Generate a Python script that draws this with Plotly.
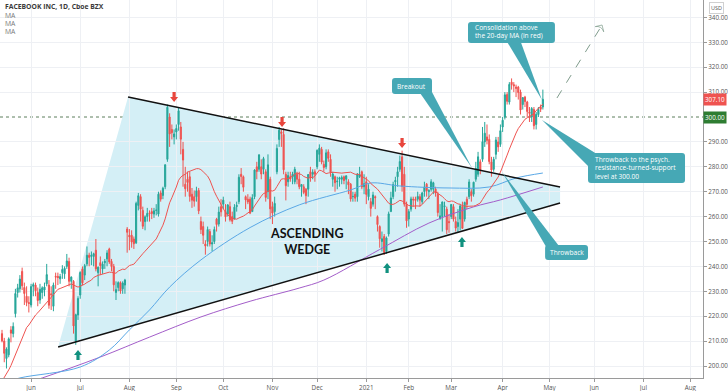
import numpy as np
import pandas as pd
import plotly.graph_objects as go

# ---------------- DATA ----------------
holidays = ["2020-05-25", "2020-07-03", "2020-09-07", "2020-11-26", "2020-12-25",
            "2021-01-01", "2021-01-18", "2021-02-15", "2021-04-02", "2021-05-31", "2021-07-05"]

# closes of the 19 sessions before the first visible bar (for the 20-day MA)
pre_closes = [176.97, 176.25, 179.24, 178.24, 170.80, 182.28, 185.13, 190.07, 187.50, 182.91,
              194.19, 204.71, 202.27, 205.26, 207.07, 208.47, 211.26, 212.35, 213.18]

opens = [
    213.0, 210.0, 203.0, 204.5, 214.5, 213.0, 221.0, 229.5, 231.0, 238.0, 231.5, 228.0, 225.5,
    224.5, 232.0, 232.5, 229.5, 226.5, 229.5, 230.5, 233.0, 232.5, 229.0, 224.0, 236.0, 236.0, 235.0, 237.5, 237.0, 240.0, 242.0, 234.0, 234.0, 210.0, 220.5,
    228.5, 239.0, 236.5, 241.0, 244.5, 244.0, 244.0, 246.5, 237.5, 241.5, 239.0, 241.5, 243.0, 247.0, 242.0, 240.0, 229.5, 231.5, 233.5, 231.0, 232.5, 255.0,
    252.5, 252.5, 251.0, 249.5, 264.5, 268.0, 262.5, 258.0, 260.0, 261.5, 262.0, 261.0, 262.5, 261.0, 269.5, 268.5, 272.0, 283.0, 300.0, 295.0, 292.0,
    294.0, 297.0, 296.0, 287.0, 273.0, 275.0, 276.0, 269.0, 268.0, 268.0, 270.5, 258.0, 256.0, 249.0, 250.0, 254.0, 249.0, 250.0, 259.0, 257.0, 264.0,
    265.0, 262.0, 261.0, 264.0, 260.0, 259.0, 264.0, 266.0, 277.0, 276.0, 268.0, 267.0, 267.0, 262.0, 268.0, 280.0, 279.0, 280.0, 279.0, 278.0, 270.0, 275.0,
    264.0, 262.0, 278.0, 291.0, 294.0, 293.0, 277.0, 274.0, 276.0, 276.0, 274.0, 277.0, 275.0, 272.0, 272.0, 271.0, 271.0, 278.0, 277.0, 278.0,
    280.0, 285.0, 287.0, 281.0, 280.0, 286.0, 283.0, 275.0, 276.0, 274.0, 275.0, 275.0, 276.0, 275.0, 274.0, 273.0, 268.0, 269.0, 268.0, 276.0, 278.0, 272.0,
    274.0, 268.0, 266.0, 265.0, 268.0, 260.0, 256.0, 250.0, 252.0, 246.0, 253.0, 262.0, 268.0, 274.0, 276.0, 279.0, 284.0, 277.0, 265.0,
    259.0, 263.0, 267.0, 267.0, 267.0, 268.0, 266.0, 270.0, 273.0, 270.0, 271.0, 271.0, 271.0, 269.0, 259.0, 260.0, 264.0, 263.0, 258.0,
    260.0, 264.0, 258.0, 256.0, 259.0, 264.0, 259.0, 267.0, 268.0, 270.0, 269.0, 275.0, 277.0, 282.0, 283.0, 290.0, 292.0, 291.0, 282.0, 279.0, 285.0, 290.0, 289.0,
    296.0, 300.0, 309.0, 306.0, 314.0, 313.0, 312.0, 312.0, 310.0, 305.0, 308.0, 306.0, 302.0, 300.0, 303.0, 297.0, 301.0, 304.0, 304.0,
]
highs = [
    214.5, 211.3, 207.5, 211.5, 216.0, 217.5, 231.0, 233.0, 236.5, 239.5, 233.5, 232.0, 228.0,
    233.0, 233.5, 233.5, 231.5, 233.0, 232.0, 233.5, 241.0, 234.5, 232.0, 233.5, 237.5, 237.5, 237.0, 240.5, 240.0, 245.0, 243.5, 236.0, 234.5, 221.0, 228.0,
    238.0, 240.0, 241.0, 248.0, 245.5, 246.0, 245.5, 251.0, 240.0, 244.0, 242.0, 243.0, 246.5, 247.5, 243.0, 241.0, 234.0, 234.0, 234.0, 234.0, 235.0, 255.8,
    255.0, 254.5, 252.0, 266.0, 269.5, 269.0, 264.0, 260.5, 263.5, 262.5, 263.5, 263.5, 265.0, 270.0, 270.5, 272.0, 281.0, 305.0, 301.5, 297.0, 295.0,
    297.0, 304.0, 298.0, 290.0, 280.0, 278.0, 278.0, 271.5, 270.5, 272.0, 271.5, 260.0, 258.0, 250.5, 256.0, 255.0, 252.5, 256.0, 259.5, 264.0, 267.0,
    268.0, 265.0, 265.0, 266.0, 262.0, 265.0, 266.0, 277.0, 279.5, 276.5, 268.5, 269.0, 268.0, 269.0, 279.0, 282.0, 285.0, 283.0, 284.0, 279.0, 285.0, 276.0,
    266.0, 268.0, 289.0, 296.0, 295.0, 295.5, 278.0, 278.0, 278.0, 278.0, 280.0, 278.0, 278.0, 273.0, 273.0, 271.5, 277.0, 280.0, 279.0, 279.0,
    287.0, 289.0, 288.0, 282.5, 287.0, 287.0, 285.0, 278.0, 276.5, 276.0, 276.0, 276.5, 276.5, 276.5, 275.0, 273.5, 270.0, 270.0, 277.5, 280.0, 278.5, 277.0,
    276.0, 273.0, 267.5, 270.0, 268.5, 260.5, 256.5, 254.0, 253.0, 252.0, 262.0, 270.0, 274.0, 276.0, 280.0, 284.5, 286.5, 280.0, 266.0,
    263.0, 268.0, 268.0, 268.0, 270.0, 269.0, 270.0, 274.0, 273.5, 271.0, 275.0, 274.0, 272.0, 270.0, 265.0, 266.0, 266.0, 264.0, 261.0,
    265.0, 265.0, 260.0, 263.0, 265.0, 266.0, 266.0, 268.0, 275.0, 271.0, 274.0, 282.0, 286.0, 283.0, 296.0, 298.0, 297.0, 293.0, 284.0, 284.0, 292.0, 292.0, 297.0,
    300.0, 310.0, 310.0, 314.0, 315.5, 314.0, 313.0, 312.5, 311.0, 308.0, 308.5, 306.5, 304.0, 304.0, 304.0, 302.0, 304.0, 305.0, 311.0,
]
lows = [
    209.5, 201.5, 199.0, 203.5, 209.5, 211.5, 219.5, 227.5, 229.5, 230.5, 224.5, 224.0, 221.5,
    223.5, 228.0, 228.0, 224.0, 225.0, 227.0, 228.0, 232.0, 223.0, 222.5, 222.0, 231.0, 232.5, 233.0, 235.0, 235.0, 239.0, 232.0, 231.0, 213.0, 208.5, 218.5,
    227.0, 232.5, 234.5, 240.0, 240.0, 240.5, 240.0, 238.0, 232.0, 236.5, 237.0, 239.0, 240.0, 241.0, 238.0, 230.0, 226.5, 230.0, 229.0, 229.0, 229.0, 245.5,
    246.5, 247.5, 247.0, 249.0, 262.5, 258.0, 255.0, 254.5, 258.0, 258.0, 259.0, 259.5, 260.5, 260.0, 266.0, 267.0, 271.0, 282.0, 288.0, 291.0, 289.0,
    291.0, 294.5, 285.0, 272.0, 268.0, 270.0, 266.0, 263.5, 264.0, 266.0, 261.0, 253.0, 249.0, 244.7, 248.0, 248.0, 246.0, 249.0, 254.0, 256.0, 260.0,
    263.0, 258.0, 260.0, 258.0, 257.0, 259.0, 262.0, 265.0, 273.0, 270.0, 263.0, 265.0, 261.0, 262.0, 267.0, 275.0, 278.0, 275.0, 277.0, 266.0, 267.0, 259.0,
    257.0, 260.0, 277.0, 288.0, 288.0, 277.0, 266.5, 272.0, 274.0, 273.0, 273.0, 273.0, 271.0, 268.0, 269.0, 265.0, 268.0, 274.0, 275.0, 274.0,
    279.0, 282.0, 281.0, 278.0, 279.0, 282.0, 276.0, 272.0, 270.0, 271.0, 272.0, 273.0, 273.0, 271.0, 269.0, 266.0, 266.0, 266.0, 266.0, 275.5, 271.0, 269.0,
    265.0, 266.5, 260.0, 264.0, 263.0, 254.0, 247.5, 246.0, 244.6, 245.0, 252.0, 262.0, 267.0, 270.0, 272.0, 278.0, 270.0, 264.0, 255.5,
    256.0, 262.0, 264.0, 263.0, 266.0, 264.0, 265.0, 268.0, 268.0, 267.0, 270.0, 269.0, 268.0, 260.0, 259.0, 254.0, 260.0, 253.0, 253.5,
    259.0, 258.0, 254.0, 253.5, 254.5, 255.0, 258.0, 263.0, 267.0, 266.0, 268.0, 274.0, 276.0, 277.0, 282.0, 288.0, 289.0, 281.0, 276.0, 278.0, 283.0, 286.0, 288.0,
    294.0, 299.0, 305.0, 305.0, 311.0, 310.0, 308.0, 307.0, 301.0, 303.0, 304.0, 300.0, 298.0, 298.0, 295.0, 295.0, 300.0, 302.0, 303.0,
]
closes = [
    210.1, 205.1, 206.8, 210.9, 213.2, 215.9, 229.1, 231.4, 234.9, 232.2, 229.1, 225.5, 225.1,
    231.9, 232.7, 230.2, 226.3, 230.8, 231.4, 231.7, 236.7, 224.4, 228.6, 232.5, 235.7, 235.5, 235.9, 238.8, 239.2, 242.2, 234.0, 235.7, 216.1, 220.6, 227.1,
    237.6, 233.4, 240.3, 244.5, 243.6, 244.5, 245.1, 239.0, 239.7, 240.3, 240.9, 242.0, 245.4, 241.8, 239.9, 232.6, 230.7, 233.5, 230.1, 233.3, 234.5, 253.7,
    251.9, 249.8, 249.1, 265.3, 268.4, 263.0, 256.1, 259.9, 261.3, 261.2, 261.2, 262.3, 262.6, 269.0, 267.0, 271.4, 280.8, 303.9, 293.2, 293.7, 293.2,
    295.4, 302.5, 291.1, 282.7, 271.2, 273.7, 268.1, 266.6, 266.2, 270.4, 262.3, 254.8, 252.5, 248.2, 254.8, 249.0, 249.5, 254.8, 256.8, 261.8, 261.9,
    266.6, 259.9, 264.7, 258.7, 258.1, 263.8, 264.5, 275.8, 276.1, 271.8, 266.7, 265.9, 261.4, 267.6, 278.7, 278.1, 284.8, 277.1, 283.3, 267.7, 280.8, 263.1,
    261.4, 265.3, 287.4, 294.7, 293.4, 278.8, 272.4, 276.5, 275.1, 277.0, 279.0, 275.0, 272.0, 272.9, 269.7, 268.4, 276.9, 275.6, 277.8, 277.0,
    286.6, 287.5, 281.9, 279.7, 285.6, 283.4, 277.9, 277.1, 273.6, 274.2, 275.6, 275.7, 274.5, 276.4, 272.8, 267.1, 268.1, 267.4, 277.0, 276.8, 271.9, 273.2,
    268.9, 271.0, 263.3, 268.7, 267.6, 256.8, 251.1, 251.1, 245.6, 251.4, 261.1, 267.5, 272.9, 274.5, 278.0, 282.1, 272.1, 265.0, 258.3,
    262.0, 267.1, 266.7, 266.5, 268.1, 266.6, 269.5, 271.9, 270.4, 270.5, 274.0, 273.6, 269.4, 261.6, 260.3, 265.9, 264.3, 254.7, 257.6,
    264.9, 259.0, 255.4, 257.6, 264.3, 255.3, 265.7, 264.9, 273.9, 268.4, 273.8, 279.3, 284.0, 278.6, 290.1, 293.5, 290.6, 282.1, 278.7, 283.0, 290.8, 288.0, 294.5,
    298.7, 308.9, 306.3, 313.1, 313.0, 312.5, 311.5, 309.8, 302.8, 307.8, 306.2, 302.2, 301.5, 303.4, 296.5, 301.1, 303.0, 303.1, 307.1,
]

# slower moving averages (bar number, price)
ma_blue_bar = [0, 8, 35, 48, 57, 66, 75, 89, 111, 133, 156, 165, 178, 200, 218, 230, 242]
ma_blue_val = [193.0, 195.2, 199.6, 206.4, 214.5, 222.5, 231.7, 242.6, 255.6, 264.7, 270.7, 273.5, 272.3, 271.5, 271.9, 275.5, 277.5]
ma_purple_bar = [0, 18, 44, 66, 89, 111, 133, 144, 169, 191, 211, 223, 242]
ma_purple_val = [190.0, 195.2, 203.6, 211.6, 219.7, 226.0, 231.3, 234.5, 246.8, 257.4, 263.9, 266.7, 271.9]

price_ticks = [200, 210, 220, 230, 240, 250, 260, 270, 280, 290, 310, 320, 330, 340]
last_price = 307.10
key_level = 300.00

# ---------------- GEOMETRY ----------------
X_LO, X_HI = -0.9, 313.65
Y_LO, Y_HI = 195.18, 346.99
PW, PH = 703, 378
SX = (X_HI - X_LO) / PW   # data units per pixel
SY = (Y_HI - Y_LO) / PH

cal = pd.bdate_range("2020-05-12", "2021-09-30", freq="C", holidays=holidays)
n = len(closes)
xb = np.arange(n)

tickvals, ticktext = [], []
for m in pd.period_range("2020-06", "2021-08", freq="M"):
    i = int(np.searchsorted(cal.values, np.datetime64(m.start_time)))
    tickvals.append(i)
    ticktext.append("2021" if m.month == 1 else m.strftime("%b"))

ma20 = pd.Series(pre_closes + closes).rolling(20).mean().iloc[len(pre_closes):].values

TEAL = "#46a8b5"
fig = go.Figure()

shapes = []
# wedge fill
wedge = [(25.1, 207.63), (56.4, 308.03), (249.7, 271.89), (249.7, 265.46)]
shapes.append(dict(type="path", xref="x", yref="y", layer="below",
                   path="M" + " L".join(f"{a},{b}" for a, b in wedge) + " Z",
                   fillcolor="#d4eff6", line=dict(width=0)))
# key level dotted line
shapes.append(dict(type="line", xref="paper", yref="y", x0=0, x1=1, y0=key_level, y1=key_level,
                   line=dict(color="#5c7f5c", width=1, dash="dot"), layer="below"))
# wedge border lines
shapes.append(dict(type="line", xref="x", yref="y", x0=56.4, y0=308.03, x1=249.7, y1=271.89,
                   line=dict(color="#111111", width=1.5), layer="above"))
shapes.append(dict(type="line", xref="x", yref="y", x0=25.1, y0=207.63, x1=249.7, y1=265.46,
                   line=dict(color="#111111", width=1.5), layer="above"))


def rrect(x0, x1, y0, y1, r=3):
    rx, ry = r * SX, r * SY
    return (f"M{x0+rx},{y1} L{x1-rx},{y1} Q{x1},{y1} {x1},{y1-ry} L{x1},{y0+ry} "
            f"Q{x1},{y0} {x1-rx},{y0} L{x0+rx},{y0} Q{x0},{y0} {x0},{y0+ry} "
            f"L{x0},{y1-ry} Q{x0},{y1} {x0+rx},{y1} Z")


callouts = [
    dict(box=(174.5, 192.4, 309.24, 315.66), base=((186.1, 310.84), (191.9, 310.84)), tip=(210.3, 279.52)),
    dict(box=(208.5, 247.4, 329.72, 338.15), base=((225.5, 330.92), (231.8, 330.92)), tip=(241.6, 306.83)),
    dict(box=(262.2, 305.6, 273.49, 285.54), base=((263.1, 279.52), (267.6, 284.34)), tip=(241.6, 298.80)),
    dict(box=(243.0, 262.2, 242.57, 248.59), base=((244.3, 246.59), (250.6, 246.59)), tip=(223.7, 277.91)),
]
for c in callouts:
    x0, x1, y0, y1 = c["box"]
    (bx1, by1), (bx2, by2) = c["base"]
    tx, ty = c["tip"]
    shapes.append(dict(type="path", xref="x", yref="y", layer="above", path=rrect(x0, x1, y0, y1),
                       fillcolor=TEAL, line=dict(width=0)))
    shapes.append(dict(type="path", xref="x", yref="y", layer="above",
                       path=f"M{bx1},{by1} L{bx2},{by2} L{tx},{ty} Z",
                       fillcolor=TEAL, line=dict(width=0)))


def arrow(cx, cy, down, color):
    s = -1 if down else 1  # direction in pixel-up units
    pts = [(-1.6, -5 * s), (1.6, -5 * s), (1.6, 0), (4, 0), (0, 5 * s), (-4, 0), (-1.6, 0)]
    return dict(type="path", xref="x", yref="y", layer="above",
                path="M" + " L".join(f"{cx+px*SX},{cy+py*SY}" for px, py in pts) + " Z",
                fillcolor=color, line=dict(width=0))


for cx, cy in [(77.0, 308.0), (125.3, 298.0), (179.0, 289.6)]:
    shapes.append(arrow(cx, cy, True, "#e8453c"))
for cx, cy in [(34.0, 204.4), (172.3, 239.4), (205.8, 249.8)]:
    shapes.append(arrow(cx, cy, False, "#11917f"))

# ---------------- TRACES ----------------
fig.add_trace(go.Candlestick(
    x=xb, open=opens, high=highs, low=lows, close=closes,
    increasing=dict(line=dict(color="#26a69a", width=1), fillcolor="#26a69a"),
    decreasing=dict(line=dict(color="#ef5350", width=1), fillcolor="#ef5350"),
    whiskerwidth=0, hoverinfo="skip"))
fig.add_trace(go.Scatter(x=ma_purple_bar, y=ma_purple_val, mode="lines", line_shape="spline",
                         line=dict(color="#a35dc9", width=1), hoverinfo="skip"))
fig.add_trace(go.Scatter(x=ma_blue_bar, y=ma_blue_val, mode="lines", line_shape="spline",
                         line=dict(color="#5aa8e6", width=1), hoverinfo="skip"))
fig.add_trace(go.Scatter(x=xb, y=ma20, mode="lines",
                         line=dict(color="#ef5350", width=1), hoverinfo="skip"))
# projected path
fig.add_trace(go.Scatter(x=[248.3, 268.5], y=[307.63, 336.95], mode="lines+markers",
                         line=dict(color="#7f9c8c", width=1, dash="dash"),
                         marker=dict(symbol="arrow-wide-open", size=[0, 7], angleref="previous",
                                     color="#7f9c8c", line=dict(color="#7f9c8c", width=1)),
                         hoverinfo="skip"))

# ---------------- TEXT ----------------
ann = []
F = "Open Sans, sans-serif"
ann.append(dict(xref="paper", yref="paper", x=0.004, y=1 - 7 / PH, xanchor="left", yanchor="middle",
                text="<b>FACEBOOK INC, 1D, Cboe BZX</b>", showarrow=False,
                font=dict(family=F, size=6.8, color="#3a3a3a")))
for k, py in enumerate([15.2, 23.4, 31.6]):
    ann.append(dict(xref="paper", yref="paper", x=0.004, y=1 - py / PH, xanchor="left", yanchor="middle",
                    text="MA", showarrow=False, font=dict(family=F, size=6.8, color="#777777")))

callout_text = [
    (183.4, 312.45, "Breakout", "center"),
    (210.7, 336.1, "Consolidation above", "left"),
    (210.7, 332.6, "the 20-day MA (in red)", "left"),
    (264.6, 282.9, "Throwback to the psych.", "left"),
    (264.6, 279.6, "resistance-turned-support", "left"),
    (264.6, 276.3, "level at 300.00", "left"),
    (253.0, 245.5, "Throwback", "center"),
]
for x, y, t, al in callout_text:
    ann.append(dict(x=x, y=y, xref="x", yref="y", text=t, showarrow=False, xanchor=al, yanchor="middle",
                    font=dict(family=F, size=6.6, color="white")))

ann.append(dict(x=136.3, y=250.0, xref="x", yref="y", text="<b>ASCENDING<br>WEDGE</b>", showarrow=False,
                align="center", font=dict(family="Lato, sans-serif", size=12.5, color="#111111")))

# price tags on the axis
ann.append(dict(xref="paper", yref="y", x=1, y=last_price, xanchor="left", yanchor="middle",
                text=f"{last_price:.2f}", showarrow=False, bgcolor="#ef5350", borderpad=1,
                font=dict(family=F, size=6.3, color="white")))
ann.append(dict(xref="paper", yref="y", x=1, y=key_level, xanchor="left", yanchor="middle",
                text=f"{key_level:.2f}", showarrow=False, bgcolor="#2e7d32", borderpad=1,
                font=dict(family=F, size=6.3, color="white")))
ann.append(dict(xref="paper", yref="paper", x=1, y=0.995, xanchor="left", yanchor="top", xshift=6,
                text="USD", showarrow=False, bordercolor="#d0d0d0", borderwidth=1, borderpad=1,
                font=dict(family=F, size=5.5, color="#555555")))

fig.update_layout(
    width=728, height=391,
    margin=dict(l=0, r=25, t=0, b=13),
    paper_bgcolor="white", plot_bgcolor="white",
    showlegend=False, hovermode=False,
    shapes=shapes, annotations=ann,
    xaxis=dict(range=[X_LO, X_HI], tickvals=tickvals, ticktext=ticktext,
               showgrid=True, gridcolor="#eef0f4", gridwidth=1,
               showline=True, linecolor="#9a9a9a", linewidth=1,
               ticks="outside", ticklen=3, tickcolor="#9a9a9a",
               tickfont=dict(family=F, size=6.3, color="#555555"),
               rangeslider=dict(visible=False), zeroline=False, fixedrange=True),
    yaxis=dict(range=[Y_LO, Y_HI], side="right", tickvals=price_ticks, tickformat=".2f",
               showgrid=True, gridcolor="#eef0f4", gridwidth=1,
               showline=True, linecolor="#9a9a9a", linewidth=1,
               ticks="outside", ticklen=3, tickcolor="#9a9a9a",
               tickfont=dict(family=F, size=6.3, color="#555555"),
               zeroline=False, fixedrange=True),
)

fig.write_html("out.html", config={"displayModeBar": False},
               post_script="document.body.style.margin='0';document.body.style.overflow='hidden';")
